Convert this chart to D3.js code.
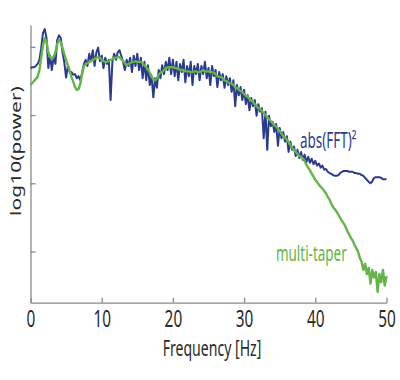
<!DOCTYPE html>
<html>
<head>
<meta charset="utf-8">
<script src="https://cdn.jsdelivr.net/npm/d3@7"></script>
<style>
  body { margin: 0; background: #fff; }
  text { font-family: "Noto Sans", sans-serif; }
</style>
</head>
<body>
<div id="wrapper"></div>
<script>
// frequency grid (Hz), 0.25 Hz steps
const freqs = d3.range(0, 50.001, 0.25)

// log10(power) of the plain periodogram, abs(FFT)^2
const fftPower = [
  2.69, 2.70, 2.70, 2.72, 2.75, 2.81, 2.98, 3.20, 3.26, 3.13, 2.69, 2.87, 2.66, 2.86, 2.75, 3.10, 3.17, 3.13, 2.92, 2.77,
  2.55, 2.72, 2.63, 2.63, 2.59, 2.60, 2.54, 2.57, 2.51, 2.62, 2.75, 2.81, 2.72, 2.90, 2.79, 2.95, 2.72, 2.92, 2.99, 2.79,
  2.87, 2.69, 2.84, 2.75, 2.81, 2.22, 2.78, 2.90, 2.81, 2.92, 2.95, 2.87, 2.78, 2.66, 2.81, 2.72, 2.84, 2.63, 2.87, 2.72,
  2.90, 2.66, 2.84, 2.54, 2.78, 2.51, 2.73, 2.44, 2.57, 2.26, 2.54, 2.40, 2.66, 2.54, 2.73, 2.60, 2.78, 2.66, 2.84, 2.60,
  2.81, 2.57, 2.78, 2.51, 2.75, 2.63, 2.81, 2.48, 2.72, 2.57, 2.78, 2.44, 2.72, 2.60, 2.75, 2.51, 2.72, 2.60, 2.78, 2.54,
  2.69, 2.44, 2.72, 2.57, 2.66, 2.41, 2.63, 2.51, 2.60, 2.40, 2.57, 2.44, 2.54, 2.34, 2.51, 2.13, 2.44, 2.29, 2.41, 2.22,
  2.37, 2.16, 2.29, 2.07, 2.25, 2.13, 2.22, 1.99, 2.16, 2.05, 2.10, 1.66, 2.05, 1.49, 1.99, 1.84, 1.90, 1.75, 1.87, 1.55,
  1.81, 1.66, 1.75, 1.61, 1.69, 1.46, 1.61, 1.49, 1.54, 1.40, 1.49, 1.37, 1.46, 1.34, 1.42, 1.31, 1.39, 1.30, 1.36, 1.28,
  1.33, 1.26, 1.29, 1.23, 1.26, 1.20, 1.21, 1.17, 1.15, 1.14, 1.12, 1.11, 1.11, 1.12, 1.15, 1.17, 1.18, 1.18, 1.18, 1.17,
  1.17, 1.17, 1.15, 1.15, 1.14, 1.14, 1.12, 1.11, 1.08, 1.05, 1.02, 1.00, 1.03, 1.08, 1.09, 1.09, 1.09, 1.08, 1.06, 1.06,
  1.06
]

// log10(power) of the multi-taper estimate
const mtPower = [
  2.44, 2.47, 2.50, 2.53, 2.56, 2.66, 2.84, 3.02, 3.13, 3.07, 2.92, 2.85, 2.82, 2.85, 2.92, 3.04, 3.10, 3.07, 2.98, 2.89,
  2.81, 2.73, 2.65, 2.56, 2.49, 2.41, 2.37, 2.38, 2.46, 2.60, 2.72, 2.75, 2.76, 2.78, 2.79, 2.81, 2.82, 2.84, 2.85, 2.84,
  2.81, 2.79, 2.78, 2.78, 2.79, 2.81, 2.82, 2.84, 2.84, 2.85, 2.85, 2.82, 2.79, 2.76, 2.73, 2.75, 2.76, 2.78, 2.78, 2.79,
  2.78, 2.78, 2.78, 2.76, 2.73, 2.70, 2.67, 2.62, 2.57, 2.52, 2.51, 2.54, 2.59, 2.62, 2.63, 2.66, 2.69, 2.70, 2.70, 2.70,
  2.70, 2.69, 2.69, 2.67, 2.67, 2.66, 2.66, 2.64, 2.64, 2.64, 2.63, 2.63, 2.64, 2.64, 2.63, 2.63, 2.64, 2.66, 2.64, 2.64,
  2.64, 2.63, 2.63, 2.62, 2.60, 2.57, 2.56, 2.56, 2.54, 2.51, 2.50, 2.48, 2.47, 2.46, 2.44, 2.41, 2.40, 2.37, 2.35, 2.34,
  2.31, 2.28, 2.27, 2.24, 2.21, 2.19, 2.16, 2.13, 2.10, 2.09, 2.06, 2.03, 2.00, 1.97, 1.94, 1.91, 1.88, 1.85, 1.83, 1.80,
  1.77, 1.73, 1.69, 1.67, 1.64, 1.61, 1.56, 1.52, 1.49, 1.46, 1.43, 1.40, 1.39, 1.36, 1.33, 1.27, 1.23, 1.19, 1.14, 1.10,
  1.05, 1.02, 0.98, 0.95, 0.92, 0.89, 0.85, 0.80, 0.76, 0.70, 0.65, 0.62, 0.58, 0.54, 0.49, 0.45, 0.41, 0.36, 0.30, 0.25,
  0.20, 0.16, 0.10, 0.05, 0.00, -0.09, -0.15, -0.27, -0.18, -0.33, -0.24, -0.47, -0.27, -0.38, -0.30, -0.59, -0.33, -0.45, -0.27, -0.50,
  -0.36
]

const xTicks = [0, 10, 20, 30, 40, 50]
const yTicks = [0, 1, 2, 3]   // drawn without labels

const width = 400
const height = 380
const squeeze = 0.64   // the text in the figure is narrow

const blue = "#2c3a8e"
const green = "#62b546"
const axisGrey = "#8a8a8a"

const svg = d3.select("#wrapper").append("svg")
    .attr("width", width)
    .attr("height", height)
    .style("background", "#fff")

const xScale = d3.scaleLinear()
    .domain([0, 50])
    .range([30.5, 386.5])

const yScale = d3.scaleLinear()
    .domain([-0.75, 3.32])
    .range([302.7, 25])

// axes, ticks pointing inward
const xAxis = svg.append("g")
    .attr("transform", `translate(0, ${yScale.range()[0]})`)
    .call(d3.axisBottom(xScale).tickValues(xTicks).tickSizeInner(-5).tickSizeOuter(0).tickPadding(7))

xAxis.selectAll("text")
    .attr("font-size", 24)
    .attr("fill", "#2a2a2a")
    .attr("transform", `scale(${squeeze},1)`)

const yAxis = svg.append("g")
    .attr("transform", `translate(${xScale.range()[0]}, 0)`)
    .call(d3.axisLeft(yScale).tickValues(yTicks).tickFormat("").tickSizeInner(-5).tickSizeOuter(0))

svg.selectAll(".domain, .tick line")
    .attr("stroke", axisGrey)
    .attr("stroke-width", 1.3)

// spectra
const line = values => d3.line()
    .x((d, i) => xScale(freqs[i]))
    .y(d => yScale(d))(values)

svg.append("path")
    .attr("d", line(fftPower))
    .attr("fill", "none")
    .attr("stroke", blue)
    .attr("stroke-width", 2)
    .attr("stroke-linejoin", "round")

svg.append("path")
    .attr("d", line(mtPower))
    .attr("fill", "none")
    .attr("stroke", green)
    .attr("stroke-width", 2.4)
    .attr("stroke-linejoin", "round")

// labels
svg.append("text")
    .attr("transform", `translate(300, 148) scale(${squeeze},1)`)
    .attr("font-size", 21)
    .attr("fill", blue)
    .text("abs(FFT)²")

svg.append("text")
    .attr("transform", `translate(276, 261) scale(${squeeze},1)`)
    .attr("font-size", 21)
    .attr("fill", green)
    .text("multi-taper")

svg.append("text")
    .attr("transform", `translate(212, 356) scale(${squeeze},1)`)
    .attr("text-anchor", "middle")
    .attr("font-size", 22)
    .attr("fill", "#2a2a2a")
    .text("Frequency [Hz]")

svg.append("text")
    .attr("transform", `translate(21, 151) scale(0.7,1) rotate(-90)`)
    .attr("text-anchor", "middle")
    .attr("font-size", 21)
    .attr("fill", "#2a2a2a")
    .text("log10(power)")
</script>
</body>
</html>
